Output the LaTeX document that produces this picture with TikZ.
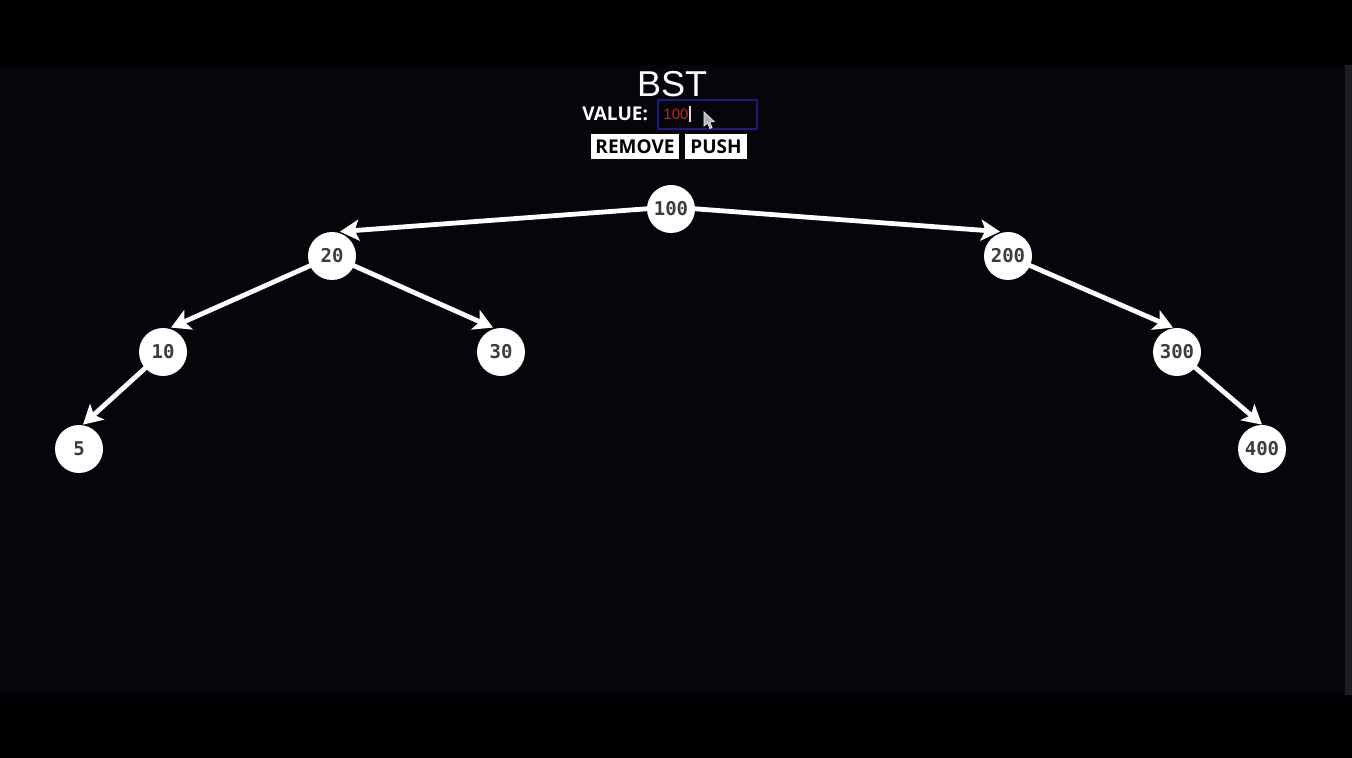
\documentclass[tikz,border=0pt]{standalone}
\usepackage{fontspec}
\setmainfont{Liberation Sans}
\newfontfamily\btnfont{Open Sans}
\newfontfamily\numfont{DejaVu Sans Mono}
\usetikzlibrary{arrows.meta}
\pgfdeclarelayer{edges}
\pgfsetlayers{edges,main}
\definecolor{pagebg}{HTML}{06050B}
\definecolor{numgray}{HTML}{3C3C3C}
\definecolor{boxnavy}{HTML}{1E1A7A}
\definecolor{valred}{HTML}{B52A22}
\definecolor{scrollgray}{HTML}{1C1C22}
\tikzset{
  bnode/.style={circle,fill=white,minimum size=24pt,inner sep=0pt,
    font=\numfont\fontsize{9.5}{10}\selectfont\bfseries,text=numgray},
  link/.style={draw=white,line width=2.4pt,
    -{Stealth[length=9.5pt,width=10.5pt,inset=2.2pt]}},
  btn/.style={fill=white,inner sep=0pt,minimum height=12.5pt,
    font=\btnfont\fontsize{9.5}{10}\selectfont\bfseries,text=black}
}
\begin{document}
\begin{tikzpicture}[x=0.5pt,y=-0.5pt]
\useasboundingbox (0,0) rectangle (1352,758);
\begin{pgfonlayer}{edges}
\fill[black] (0,0) rectangle (1352,758);
\fill[pagebg] (0,65) rectangle (1345,695);
\fill[scrollgray] (1345,65) rectangle (1352,695);
\end{pgfonlayer}
% header
\node[text=white,font=\fontsize{18}{20}\selectfont] (title) at (672,84) {BST};
\node[text=white,font=\btnfont\fontsize{9.5}{12}\selectfont\bfseries,anchor=east] (lbl) at (655,114) {VALUE:};
\node[draw=boxnavy,line width=1pt,minimum width=49.5pt,minimum height=14.5pt,inner sep=0pt] (input) at (707.5,114.5) {};
\node[text=valred,font=\fontsize{7.5}{8}\selectfont,anchor=west,inner sep=0pt] (val) at (663,114) {100};
\draw[white!80!valred,line width=0.6pt] (690,106) -- (690,122);
\draw[fill=gray!60,draw=white!85!gray,line width=0.4pt] (704,112) -- (704,126) -- (707.5,123) -- (710,128.5) -- (712,127.5) -- (709.5,122) -- (714,121.5) -- cycle;
\node[btn,minimum width=44pt] (remove) at (635,146.5) {REMOVE};
\node[btn,minimum width=31pt] (push) at (716,146.5) {PUSH};
% tree
\node[bnode] (n100) at (671,209) {100};
\node[bnode] (n20) at (332,256) {20};
\node[bnode] (n200) at (1008,256) {200};
\node[bnode] (n10) at (163,352) {10};
\node[bnode] (n30) at (501,352) {30};
\node[bnode] (n300) at (1177,352) {300};
\node[bnode] (n5) at (79,449) {5};
\node[bnode] (n400) at (1262,449) {400};
\begin{pgfonlayer}{edges}
\draw[link] ([yshift=1]n100.center) -- ([xshift=4]n20.north);
\draw[link] ([yshift=1]n100.center) -- ([xshift=-4]n200.north);
\draw[link] (n20.center) -- ([xshift=4]n10.north);
\draw[link] (n20.center) -- ([xshift=-4]n30.north);
\draw[link] (n200.center) -- ([xshift=-2]n300.north);
\draw[link] (n10.center) -- ([xshift=2]n5.north);
\draw[link] (n300.center) -- (n400.north);
\end{pgfonlayer}
\end{tikzpicture}
\end{document}
